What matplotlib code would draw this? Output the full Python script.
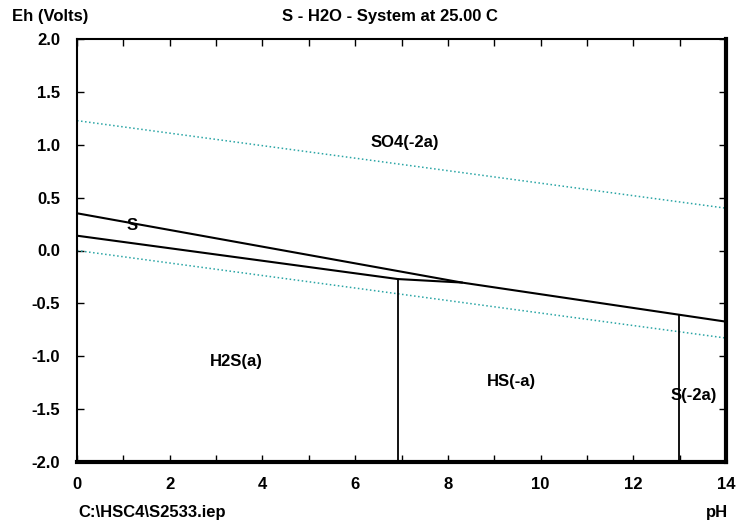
import matplotlib
matplotlib.use("Agg")
import matplotlib.pyplot as plt
import numpy as np

plt.rcParams['font.family'] = ['Liberation Sans', 'DejaVu Sans']
plt.rcParams['font.weight'] = 'bold'

#%% Data
# water stability limits
water_ph = [0, 14]
water_upper = [1.228, 0.40]
water_lower = [0.0, -0.828]

# S / SO4 then HS / SO4 boundary
upper_ph = [0, 8.3, 14]
upper_eh = [0.352, -0.303, -0.673]

# H2S / S then HS / S boundary
lower_ph = [0, 6.92, 8.3]
lower_eh = [0.14, -0.27, -0.303]

# vertical boundaries: H2S/HS and HS/S(-2)
vert_ph = [6.92, 12.98]
vert_top = [-0.27, -0.61]

labels = ['SO4(-2a)', 'S', 'H2S(a)', 'HS(-a)', 'S(-2a)']
label_ph = [7.07, 1.19, 3.43, 9.38, 13.3]
label_eh = [1.02, 0.24, -1.05, -1.24, -1.37]

fs = 12

#%% Plot
fig = plt.figure(figsize=(7.39, 5.21), dpi=100)
ax = fig.add_axes([77/739, 1 - 462/521, (726-77)/739, (462-39)/521])

ax.plot(water_ph, water_upper, ':', color='#2aa5a5', lw=1.1)
ax.plot(water_ph, water_lower, ':', color='#2aa5a5', lw=1.1)
ax.plot(upper_ph, upper_eh, color='black', lw=1.5)
ax.plot(lower_ph, lower_eh, color='black', lw=1.5)
for p, t in zip(vert_ph, vert_top):
    ax.plot([p, p], [-2.0, t], color='black', lw=1.3)

for s, xp, yp in zip(labels, label_ph, label_eh):
    ax.text(xp, yp, s, ha='center', va='center', fontsize=fs, fontweight='bold')

ax.set_xlim(0, 14)
ax.set_ylim(-2, 2)
ax.set_xticks(np.arange(0, 15, 1))
ax.set_xticklabels([str(i) if i % 2 == 0 else '' for i in range(15)])
ax.set_yticks(np.arange(-2, 2.01, 0.5))
ax.set_yticklabels(['%.1f' % v for v in np.arange(-2, 2.01, 0.5)])
ax.tick_params(direction='in', top=True, right=True, length=5, width=1,
               labelsize=fs)
ax.tick_params(axis='x', pad=11)
ax.tick_params(axis='y', pad=12)

ax.spines['left'].set_linewidth(1.5)
ax.spines['top'].set_linewidth(1.5)
ax.spines['bottom'].set_linewidth(3)
ax.spines['right'].set_linewidth(3)

fig.text(12/739, 1 - 17/521, 'Eh (Volts)', ha='left', va='center', fontsize=fs, fontweight='bold')
fig.text(390/739, 1 - 17/521, 'S - H2O - System at 25.00 C', ha='center', va='center',
         fontsize=fs, fontweight='bold')
fig.text(78/739, 1 - 512/521, 'C:\\HSC4\\S2533.iep', ha='left', va='center',
         fontsize=fs, fontweight='bold')
fig.text(728/739, 1 - 512/521, 'pH', ha='right', va='center', fontsize=fs, fontweight='bold')

fig.savefig('out.png', dpi=100)
